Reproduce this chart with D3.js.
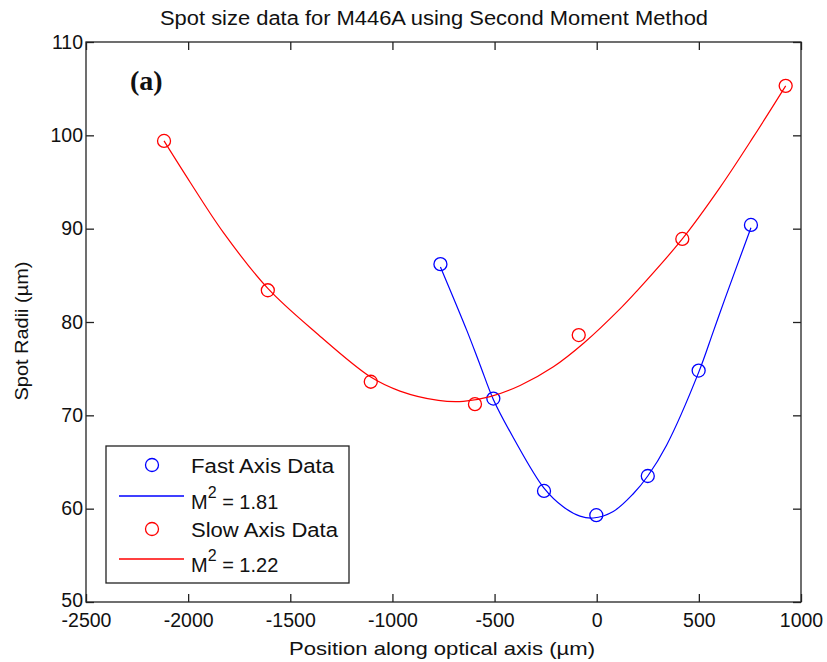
<!DOCTYPE html>
<html>
<head>
<meta charset="utf-8">
<script src="https://cdn.jsdelivr.net/npm/d3@7"></script>
<style>
  body { margin: 0; background: #fff; }
  text { font-family: "Liberation Sans", Arial, sans-serif; fill: #111; }
</style>
</head>
<body>
<svg width="827" height="662"></svg>
<script>
// measured data (position in um, spot radius in um)
var fastPos  = [-765, -506, -258, -2, 250, 499, 755];
var fastRad  = [86.2, 71.8, 61.9, 59.3, 63.5, 74.8, 90.4];
var slowPos  = [-2118, -1610, -1106, -596, -88, 419, 925];
var slowRad  = [99.4, 83.4, 73.6, 71.2, 78.6, 88.9, 105.3];

// fitted curves
var fastFitPos = [-765, -636, -571, -506, -408, -258, -164, -82, -17, 81, 179, 250, 342, 499, 571, 628, 755];
var fastFitRad = [85.9, 79.1, 75.4, 71.7, 67.6, 62.2, 60.2, 59.2, 59.0, 59.7, 61.6, 63.5, 66.8, 74.6, 79.0, 82.5, 90.1];
var slowFitPos = [-2118, -1991, -1828, -1610, -1371, -1106, -963, -775, -653, -522, -375, -212, -60, 114, 196, 419, 603, 766, 925];
var slowFitRad = [99.4, 95.0, 89.6, 83.6, 78.8, 74.1, 72.6, 71.6, 71.5, 72.0, 73.2, 75.2, 77.8, 81.4, 83.3, 88.9, 94.4, 99.8, 105.3];

var xTicks = [-2500, -2000, -1500, -1000, -500, 0, 500, 1000];
var yTicks = [50, 60, 70, 80, 90, 100, 110];

var legendLabels = ["Fast Axis Data", "1.81", "Slow Axis Data", "1.22"];

var svg = d3.select("svg"),
    margin = {top: 42, right: 26, bottom: 60, left: 86},
    width = +svg.attr("width") - margin.left - margin.right,
    height = +svg.attr("height") - margin.top - margin.bottom,
    g = svg.append("g").attr("transform", "translate(" + margin.left + "," + margin.top + ")");

var x = d3.scaleLinear().domain([-2500, 1000]).range([0, width]);
var y = d3.scaleLinear().domain([50, 110]).range([height, 0]);

var fmt = function(d) { return String(d); };

function styleAxis(sel) {
  sel.select(".domain").remove();
  sel.selectAll(".tick line").attr("stroke", "#222").attr("stroke-width", 1.3);
  sel.selectAll(".tick text").attr("font-size", 19.5).attr("fill", "#111");
}

g.append("g")
    .attr("transform", "translate(0," + height + ")")
    .call(d3.axisBottom(x).tickValues(xTicks).tickFormat(fmt).tickSizeInner(-8).tickSizeOuter(0).tickPadding(11))
    .call(styleAxis);

g.append("g")
    .call(d3.axisTop(x).tickValues(xTicks).tickFormat("").tickSizeInner(-8).tickSizeOuter(0))
    .call(styleAxis);

var yAxisG = g.append("g")
    .call(d3.axisLeft(y).tickValues(yTicks).tickFormat(fmt).tickSizeInner(-8).tickSizeOuter(0).tickPadding(3))
    .call(styleAxis);
// lowest label sits a touch higher, as in the original
yAxisG.selectAll(".tick text").filter(function(d) { return d === 50; }).attr("dy", "0.22em");

g.append("g")
    .attr("transform", "translate(" + width + ",0)")
    .call(d3.axisRight(y).tickValues(yTicks).tickFormat("").tickSizeInner(-8).tickSizeOuter(0))
    .call(styleAxis);

g.append("rect")
    .attr("width", width)
    .attr("height", height)
    .attr("fill", "none")
    .attr("stroke", "#222")
    .attr("stroke-width", 1.3);

var line = d3.line()
    .x(function(d) { return x(d[0]); })
    .y(function(d) { return y(d[1]); })
    .curve(d3.curveCatmullRom.alpha(0.5));

var series = [
  {color: "#0000ff", fit: d3.zip(fastFitPos, fastFitRad), pts: d3.zip(fastPos, fastRad)},
  {color: "#ff0000", fit: d3.zip(slowFitPos, slowFitRad), pts: d3.zip(slowPos, slowRad)}
];

series.forEach(function(s) {
  g.append("path")
      .datum(s.fit)
      .attr("fill", "none")
      .attr("stroke", s.color)
      .attr("stroke-width", 1.2)
      .attr("d", line);

  g.selectAll(null)
      .data(s.pts)
      .enter().append("circle")
      .attr("cx", function(d) { return x(d[0]); })
      .attr("cy", function(d) { return y(d[1]); })
      .attr("r", 6.5)
      .attr("fill", "none")
      .attr("stroke", s.color)
      .attr("stroke-width", 1.3);
});

// legend
var lg = svg.append("g").attr("transform", "translate(106,446)");
lg.append("rect")
    .attr("width", 243).attr("height", 137)
    .attr("fill", "#fff").attr("stroke", "#222").attr("stroke-width", 1.3);

var rows = [
  {type: "circle", color: "#0000ff", y: 19, label: legendLabels[0], len: 143},
  {type: "line", color: "#0000ff", y: 50, label: legendLabels[1]},
  {type: "circle", color: "#ff0000", y: 83, label: legendLabels[2], len: 147},
  {type: "line", color: "#ff0000", y: 113, label: legendLabels[3]}
];

rows.forEach(function(r) {
  if (r.type === "circle") {
    lg.append("circle").attr("cx", 46).attr("cy", r.y).attr("r", 6.5)
        .attr("fill", "none").attr("stroke", r.color).attr("stroke-width", 1.3);
    lg.append("text").attr("x", 85).attr("y", r.y + 7.5).attr("font-size", 20)
        .attr("textLength", r.len).attr("lengthAdjust", "spacingAndGlyphs")
        .text(r.label);
  } else {
    lg.append("line").attr("x1", 13).attr("x2", 78).attr("y1", r.y).attr("y2", r.y)
        .attr("stroke", r.color).attr("stroke-width", 1.3);
    var t = lg.append("text").attr("x", 85).attr("y", r.y + 13).attr("font-size", 20);
    t.append("tspan").text("M");
    t.append("tspan").attr("dy", -11).attr("font-size", 16).text("2");
    t.append("tspan").attr("dy", 11).text(" = " + r.label);
  }
});

// titles
svg.append("text")
    .attr("x", 434).attr("y", 25)
    .attr("text-anchor", "middle")
    .attr("font-size", 20)
    .attr("textLength", 548).attr("lengthAdjust", "spacingAndGlyphs")
    .text("Spot size data for M446A using Second Moment Method");

svg.append("text")
    .attr("x", 442).attr("y", 655)
    .attr("text-anchor", "middle")
    .attr("font-size", 19)
    .attr("textLength", 306).attr("lengthAdjust", "spacingAndGlyphs")
    .text("Position along optical axis (\u00b5m)");

svg.append("text")
    .attr("transform", "translate(28,331) rotate(-90)")
    .attr("text-anchor", "middle")
    .attr("font-size", 19)
    .attr("textLength", 139).attr("lengthAdjust", "spacingAndGlyphs")
    .text("Spot Radii (\u00b5m)");

svg.append("text")
    .attr("x", 130).attr("y", 90)
    .style("font-family", "'Liberation Serif', 'Times New Roman', serif")
    .attr("font-weight", "bold")
    .attr("font-size", 28)
    .text("(a)");
</script>
</body>
</html>
